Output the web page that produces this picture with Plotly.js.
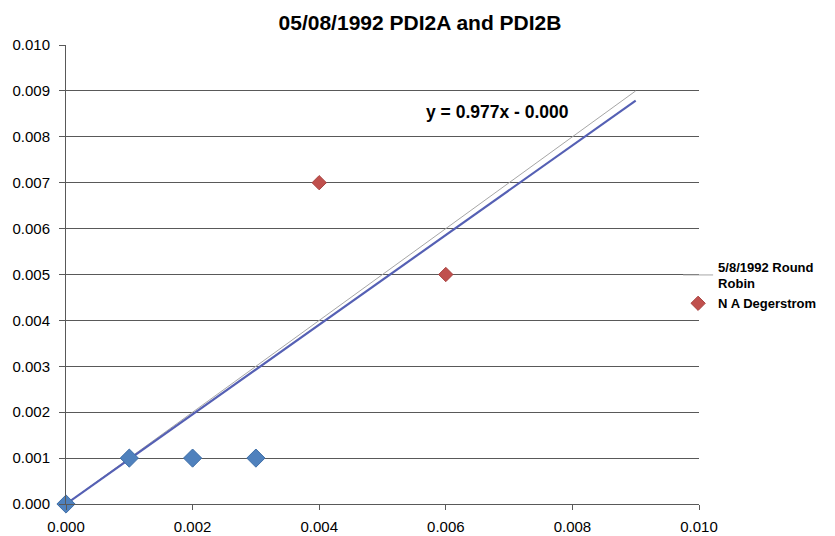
<!DOCTYPE html>
<html>
<head>
<meta charset="utf-8">
<script src="https://cdn.plot.ly/plotly-3.0.1.min.js"></script>
<style>
  html, body { margin: 0; padding: 0; background: #fff; }
  #plot { width: 835px; height: 536px; }
</style>
</head>
<body>
<div id="plot"></div>
<script>
let pdi_x = [0.000, 0.001, 0.002, 0.003];
let pdi_y = [0.000, 0.001, 0.001, 0.001];

let nad_x = [0.004, 0.006];
let nad_y = [0.007, 0.005];

// 1:1 line and fitted trend (y = 0.977x - 0.000)
let ref_x = [0.000, 0.009];
let ref_y = [0.000, 0.009];
let trend_x = [0.000, 0.009];
let trend_y = [0.000, 0.00879];

let tick_vals_x = [0, 0.002, 0.004, 0.006, 0.008, 0.010];
let tick_vals_y = [0, 0.001, 0.002, 0.003, 0.004, 0.005, 0.006, 0.007, 0.008, 0.009, 0.010];

let plot = document.getElementById('plot');

let ref_trace = {
    x: ref_x,
    y: ref_y,
    mode: 'lines',
    name: '<b>5/8/1992 Round<br>Robin</b>',
    line: {color: '#a6a6a6', width: 1}
};

let trend_trace = {
    x: trend_x,
    y: trend_y,
    mode: 'lines',
    showlegend: false,
    line: {color: '#5560b4', width: 2.2}
};

let pdi_trace = {
    x: pdi_x,
    y: pdi_y,
    mode: 'markers',
    showlegend: false,
    cliponaxis: false,
    marker: {symbol: 'diamond', size: 14, color: '#4f81bd', line: {color: '#3f6fa8', width: 1}}
};

let nad_trace = {
    x: nad_x,
    y: nad_y,
    mode: 'markers',
    name: '<b>N A Degerstrom</b>',
    cliponaxis: false,
    marker: {symbol: 'diamond', size: 11, color: '#c0504d', line: {color: '#a84340', width: 1}}
};

let layout = {
  width: 835,
  height: 536,
  margin: {l: 66, r: 136, t: 45, b: 32},
  paper_bgcolor: '#ffffff',
  plot_bgcolor: '#ffffff',
  font: {family: 'Liberation Sans, Arial, sans-serif', size: 15, color: '#000'},
  title: {
    text: '<b>05/08/1992 PDI2A and PDI2B</b>',
    font: {size: 21, color: '#000'},
    x: 0.503,
    xanchor: 'center',
    y: 0.958,
    yanchor: 'middle'
  },
  xaxis: {
    range: [0, 0.010],
    tickvals: tick_vals_x,
    tickformat: '.3f',
    showgrid: false,
    zeroline: false,
    showline: true,
    linecolor: '#595959',
    linewidth: 1,
    ticks: 'outside',
    ticklen: 5,
    tickcolor: '#595959',
    ticklabelstandoff: 4
  },
  yaxis: {
    range: [0, 0.010],
    tickvals: tick_vals_y,
    tickformat: '.3f',
    showgrid: true,
    gridcolor: '#595959',
    gridwidth: 1,
    zeroline: false,
    showline: true,
    linecolor: '#595959',
    linewidth: 1,
    ticks: 'outside',
    ticklen: 6,
    tickcolor: '#595959',
    ticklabelstandoff: 6
  },
  legend: {
    x: 0.967,
    xanchor: 'left',
    y: 0.55,
    yanchor: 'top',
    bgcolor: 'rgba(0,0,0,0)',
    font: {size: 13, color: '#000'},
    tracegroupgap: 0
  },
  annotations: [{
    x: 0.00681,
    y: 0.00854,
    xref: 'x',
    yref: 'y',
    text: '<b>y = 0.977x - 0.000</b>',
    showarrow: false,
    font: {size: 17.5, color: '#000'}
  }]
};

Plotly.newPlot(plot, [ref_trace, trend_trace, pdi_trace, nad_trace], layout, {displayModeBar: false});
</script>
</body>
</html>
